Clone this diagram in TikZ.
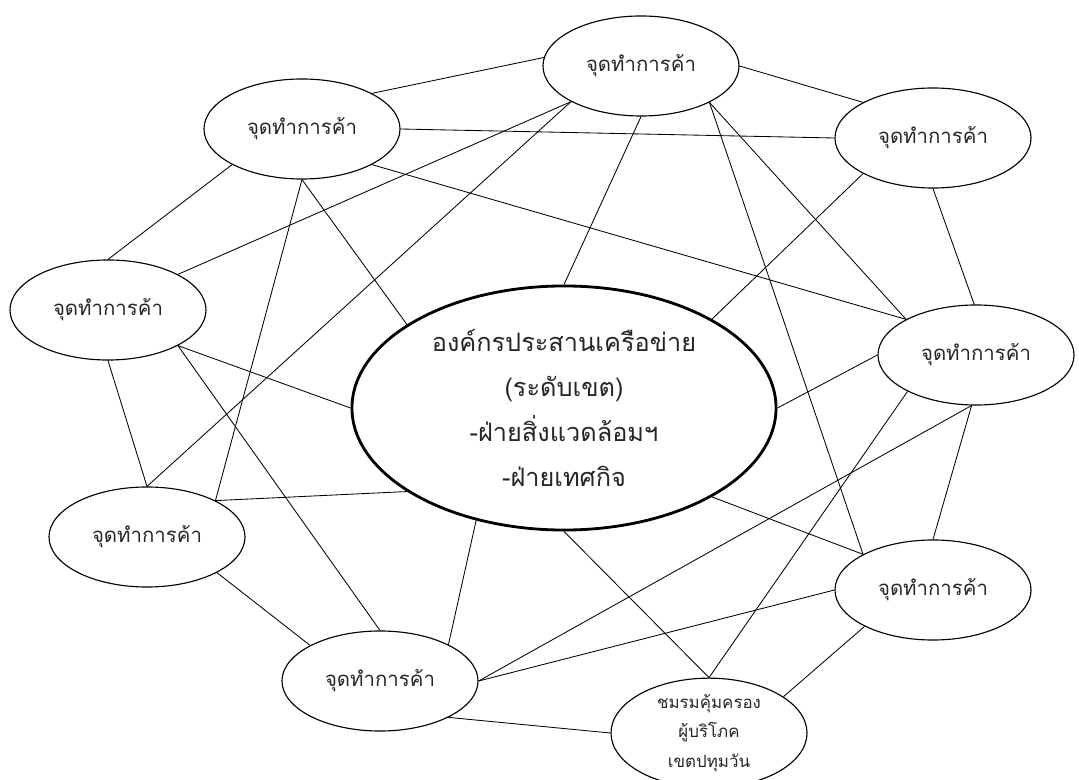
\documentclass[tikz,border=0pt]{standalone}
\usepackage{fontspec}
\newfontfamily\thaifont[Script=Thai]{Loma}
\usetikzlibrary{shapes.geometric}
\newcommand{\shopfont}{\thaifont\fontsize{14.5}{17}\selectfont}
\newcommand{\hubfont}{\thaifont\fontsize{18}{32}\selectfont}
\newcommand{\clubfont}{\thaifont\fontsize{12}{21}\selectfont}

\begin{document}
\begin{tikzpicture}[x=0.025cm,y=-0.025cm,
    shop/.style={ellipse,draw,line width=0.8pt,minimum width=4.9cm,minimum height=2.5cm,inner sep=0pt,
        text=black!85,font=\shopfont},
    link/.style={line width=0.6pt}]
    \useasboundingbox (0,0) rectangle (1079,780);

    \node[shop] (tl) at (302,129) {จุดทำการค้า};
    \node[shop] (t) at (641,66) {จุดทำการค้า};
    \node[shop] (tr) at (933,138) {จุดทำการค้า};
    \node[shop] (l) at (108,310) {จุดทำการค้า};
    \node[shop] (r) at (976,355) {จุดทำการค้า};
    \node[shop] (ll) at (147,537) {จุดทำการค้า};
    \node[shop] (rl) at (933,590) {จุดทำการค้า};
    \node[shop] (bl) at (380,681) {จุดทำการค้า};
    \node[shop,minimum height=2.4cm,font=\clubfont,align=center] (b) at (709,733)
        {ชมรมคุ้มครอง\\ผู้บริโภค\\เขตปทุมวัน};
    \node[ellipse,draw,line width=2pt,minimum width=10.6cm,minimum height=6.1cm,inner sep=0pt,
        text=black!85,font=\hubfont,align=center] (c) at (564,408)
        {องค์กรประสานเครือข่าย\\(ระดับเขต)\\-ฝ่ายสิ่งแวดล้อมฯ\\-ฝ่ายเทศกิจ};

    \draw[link] (tl.27) -- (t.175);
    \draw[link] (tl.east) -- (tr.west);
    \draw[link] (tl.333) -- (r.153);
    \draw[link] (tl.south) -- (ll.28);
    \draw[link] (tl.south) -- (c.152);
    \draw[link] (tl.207) -- (l.north);
    \draw[link] (t.207) -- (l.27);
    \draw[link] (t.207) -- (ll.north);
    \draw[link] (t.east) -- (tr.153);
    \draw[link] (t.332) -- (r.153);
    \draw[link] (t.332) -- (rl.153);
    \draw[link] (t.south) -- (c.north);
    \draw[link] (tr.207) -- (c.31);
    \draw[link] (tr.south) -- (r.92);
    \draw[link] (l.333) -- (c.west);
    \draw[link] (l.333) -- (bl.north);
    \draw[link] (l.south) -- (ll.north);
    \draw[link] (ll.28) -- (c.208);
    \draw[link] (ll.333) -- (bl.153);
    \draw[link] (bl.28) -- (c.232);
    \draw[link] (bl.east) -- (r.265);
    \draw[link] (bl.east) -- (rl.west);
    \draw[link] (bl.332) -- (b.west);
    \draw[link] (c.329) -- (rl.153);
    \draw[link] (c.south) -- (b.north);
    \draw[link] (c.east) -- (r.west);
    \draw[link] (b.north) -- (r.208);
    \draw[link] (b.26) -- (rl.208);
    \draw[link] (r.265) -- (rl.north);
\end{tikzpicture}
\end{document}
